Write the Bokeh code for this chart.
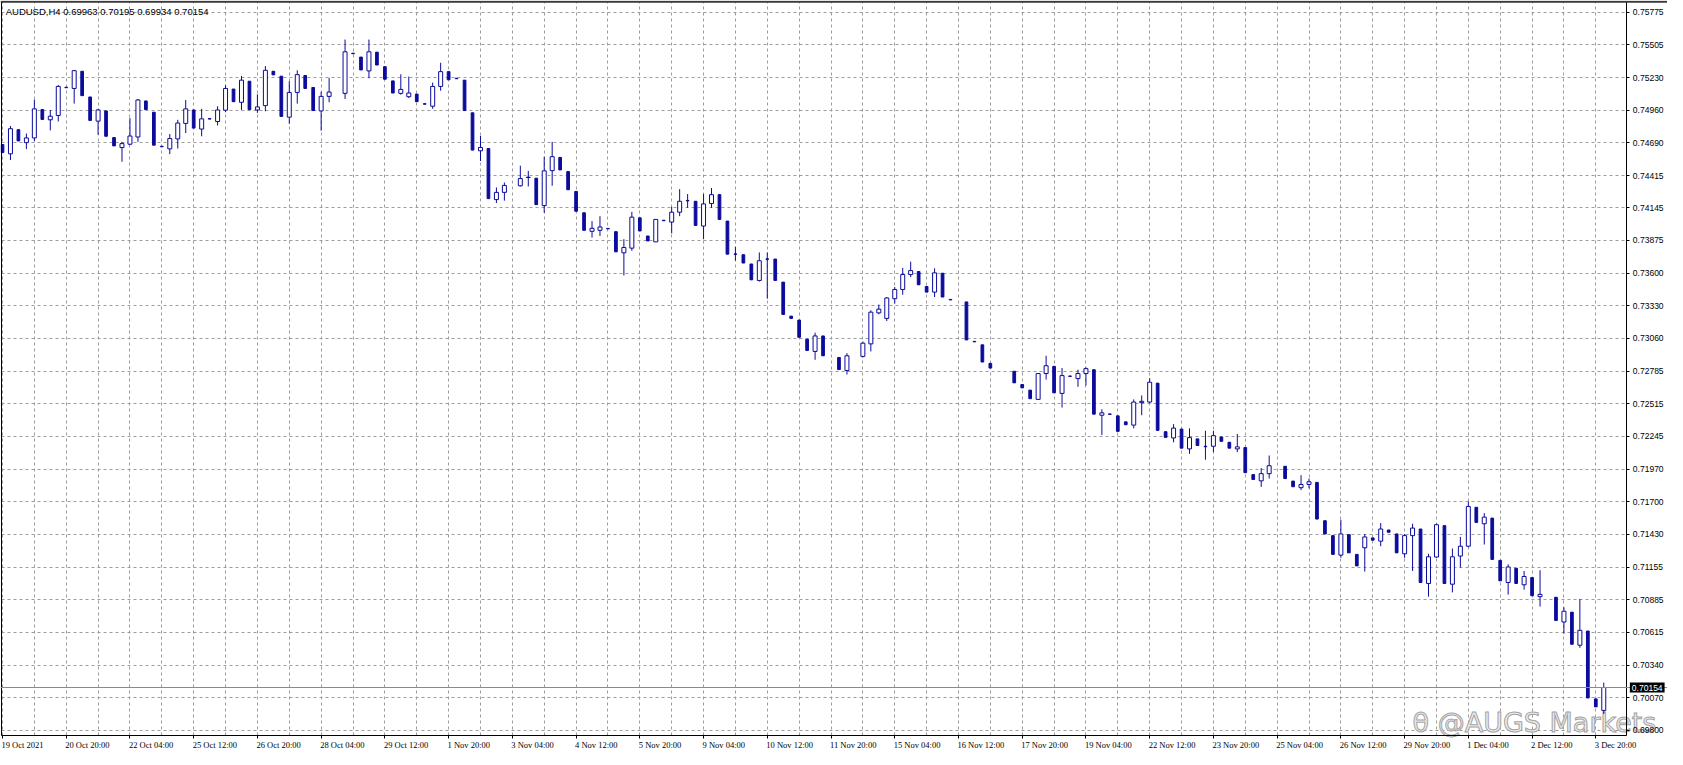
import numpy as np
from bokeh.plotting import figure
from bokeh.models import (ColumnDataSource, FixedTicker, LinearAxis, Range1d, Label,
                          LabelSet, Span, PrintfTickFormatter, CustomJSTickFormatter, Grid)
from bokeh.embed import file_html
from bokeh.resources import INLINE

# ---------------- data (AUDUSD H4, one entry per bar, None = bar not drawn) -------------
open_ = [
    0.74673, 0.74596, 0.74797, 0.74689, 0.74728, 0.74964, 0.74879, 0.74915, 0.75150, 0.75140,
    0.75283, 0.75069, 0.74868, 0.74953, 0.74731, 0.74648, 0.74676, 0.74736, 0.75036, 0.74942,
    0.74659, 0.74637, 0.74720, 0.74849, 0.74961, 0.74802, 0.74889, 0.74865, 0.74959, 0.75135,
    0.75025, 0.75200, 0.74961, 0.74997, 0.75283, 0.75242, 0.74901, 0.75107, 0.75247, 0.75148,
    0.74953, 0.75074, None, 0.75099, 0.75433, 0.75401, 0.75286, 0.75442, 0.75321, 0.75203,
    0.75099, 0.75071, 0.75093, 0.75013, 0.74992, 0.75157, 0.75280, 0.75225, 0.75209, 0.74937,
    0.74621, 0.74640, 0.74215, 0.74275, None, 0.74330, 0.74399, 0.74393, 0.74165, 0.74456,
    0.74566, 0.74448, 0.74283, 0.74105, 0.73951, 0.73959, 0.73975, 0.73948, 0.73772, 0.73811,
    0.74063, 0.73912, 0.73863, 0.74043, 0.74028, 0.74110, 0.74208, 0.74201, 0.73995, 0.74182,
    0.74256, 0.74036, 0.73763, 0.73756, 0.73679, 0.73542, 0.73722, 0.73720, 0.73528, 0.73245,
    0.73212, 0.73053, 0.72951, 0.73080, None, 0.72901, 0.72792, None, 0.72910, 0.73014,
    0.73272, 0.73226, 0.73390, 0.73467, 0.73591, 0.73616, 0.73492, 0.73445, 0.73602, 0.73384,
    None, 0.73363, 0.73035, 0.73006, 0.72852, None, None, 0.72786, 0.72676, 0.72629,
    0.72552, 0.72767, 0.72827, 0.72602, 0.72747, 0.72725, 0.72767, 0.72799, 0.72420, 0.72431,
    0.72415, 0.72365, 0.72338, 0.72525, 0.72530, 0.72687, 0.72283, 0.72231, 0.72305, 0.72140,
    0.72223, 0.72162, 0.72162, 0.72239, 0.72195, 0.72140, 0.72151, 0.71926, 0.71874, 0.71934,
    None, 0.71995, 0.71872, 0.71817, 0.71844, 0.71861, 0.71542, 0.71418, 0.71256, 0.71426,
    0.71262, 0.71317, 0.71399, 0.71372, 0.71465, 0.71432, 0.71267, 0.71418, 0.71473, 0.71020,
    0.71240, 0.71501, 0.71014, 0.71248, 0.71330, 0.71654, 0.71517, 0.71564, 0.71212, 0.71028,
    0.71146, 0.71009, 0.71069, 0.70910, None, 0.70905, 0.70699, 0.70781, 0.70506, 0.70624,
    0.70059, 0.69963]

high = [
    0.74673, 0.74827, 0.74797, 0.74764, 0.75047, 0.74964, 0.74961, 0.75168, 0.75150, 0.75294,
    0.75283, 0.75069, 0.74970, 0.74953, 0.74731, 0.74695, 0.74893, 0.75052, 0.75036, 0.74942,
    0.74659, 0.74761, 0.74879, 0.75044, 0.74961, 0.74970, 0.74889, 0.74992, 0.75168, 0.75135,
    0.75244, 0.75200, 0.75091, 0.75327, 0.75283, 0.75242, 0.75200, 0.75291, 0.75247, 0.75148,
    0.75113, 0.75228, None, 0.75547, 0.75433, 0.75401, 0.75547, 0.75442, 0.75321, 0.75203,
    0.75258, 0.75239, 0.75093, 0.75013, 0.75189, 0.75354, 0.75280, 0.75225, 0.75209, 0.74937,
    0.74745, 0.74640, 0.74316, 0.74357, None, 0.74497, 0.74454, 0.74393, 0.74572, 0.74695,
    0.74566, 0.74448, 0.74283, 0.74105, 0.74036, 0.74077, 0.73975, 0.73948, 0.73885, 0.74113,
    0.74063, 0.73912, 0.74050, 0.74043, 0.74154, 0.74302, 0.74261, 0.74201, 0.74261, 0.74311,
    0.74256, 0.74036, 0.73822, 0.73756, 0.73679, 0.73775, 0.73775, 0.73720, 0.73528, 0.73245,
    0.73212, 0.73053, 0.73107, 0.73080, None, 0.72901, 0.72937, None, 0.73033, 0.73294,
    0.73341, 0.73404, 0.73487, 0.73646, 0.73698, 0.73616, 0.73492, 0.73643, 0.73602, 0.73384,
    None, 0.73363, 0.73035, 0.73006, 0.72852, None, None, 0.72786, 0.72676, 0.72629,
    0.72767, 0.72915, 0.72827, 0.72813, 0.72747, 0.72799, 0.72819, 0.72799, 0.72470, 0.72431,
    0.72415, 0.72365, 0.72552, 0.72585, 0.72728, 0.72687, 0.72283, 0.72346, 0.72305, 0.72311,
    0.72223, 0.72291, 0.72291, 0.72239, 0.72195, 0.72264, 0.72151, 0.71926, 0.71981, 0.72085,
    None, 0.71995, 0.71872, 0.71921, 0.71893, 0.71861, 0.71542, 0.71418, 0.71550, 0.71426,
    0.71262, 0.71432, 0.71399, 0.71523, 0.71465, 0.71432, 0.71432, 0.71517, 0.71473, 0.71267,
    0.71517, 0.71501, 0.71311, 0.71407, 0.71701, 0.71654, 0.71605, 0.71564, 0.71212, 0.71179,
    0.71146, 0.71124, 0.71069, 0.71130, None, 0.70905, 0.70822, 0.70781, 0.70891, 0.70624,
    0.70059, 0.70195]

low = [
    0.74607, 0.74544, 0.74703, 0.74635, 0.74701, 0.74882, 0.74791, 0.74865, 0.75146, 0.75014,
    0.75080, 0.74874, 0.74755, 0.74742, 0.74662, 0.74530, 0.74668, 0.74695, 0.74964, 0.74668,
    0.74655, 0.74593, 0.74640, 0.74769, 0.74810, 0.74742, 0.74885, 0.74832, 0.74942, 0.75030,
    0.74961, 0.74964, 0.74937, 0.74950, 0.75253, 0.74907, 0.74846, 0.75014, 0.75140, 0.74956,
    0.74788, 0.75025, None, 0.75052, 0.75429, 0.75294, 0.75225, 0.75335, 0.75217, 0.75102,
    0.75088, 0.75060, 0.75030, 0.75009, 0.74970, 0.75121, 0.75212, 0.75221, 0.74956, 0.74627,
    0.74536, 0.74223, 0.74187, 0.74206, None, 0.74324, 0.74324, 0.74173, 0.74105, 0.74330,
    0.74462, 0.74297, 0.74118, 0.73959, 0.73899, 0.73912, 0.73971, 0.73780, 0.73583, 0.73789,
    0.73954, 0.73871, 0.73863, 0.74039, 0.73934, 0.74077, 0.74146, 0.74000, 0.73885, 0.74146,
    0.74050, 0.73761, 0.73706, 0.73687, 0.73547, 0.73533, 0.73390, 0.73542, 0.73259, 0.73226,
    0.73069, 0.72959, 0.72882, 0.72915, None, 0.72800, 0.72759, None, 0.72901, 0.72951,
    0.73261, 0.73204, 0.73349, 0.73423, 0.73569, 0.73506, 0.73445, 0.73404, 0.73404, 0.73380,
    None, 0.73047, 0.73031, 0.72863, 0.72813, None, None, 0.72690, 0.72648, 0.72558,
    0.72552, 0.72717, 0.72607, 0.72484, 0.72743, 0.72657, 0.72668, 0.72429, 0.72256, 0.72427,
    0.72286, 0.72341, 0.72311, 0.72420, 0.72519, 0.72294, 0.72236, 0.72195, 0.72146, 0.72099,
    0.72168, 0.72050, 0.72113, 0.72203, 0.72146, 0.72113, 0.71942, 0.71885, 0.71824, 0.71893,
    None, 0.71893, 0.71825, 0.71797, 0.71811, 0.71556, 0.71432, 0.71262, 0.71234, 0.71275,
    0.71166, 0.71119, 0.71380, 0.71330, 0.71446, 0.71275, 0.71234, 0.71124, 0.71028, 0.70910,
    0.71234, 0.71020, 0.70946, 0.71152, 0.71322, 0.71528, 0.71344, 0.71220, 0.71042, 0.70927,
    0.71020, 0.70968, 0.70918, 0.70828, None, 0.70712, 0.70602, 0.70514, 0.70484, 0.70067,
    0.69993, 0.69934]

close = [
    0.74607, 0.74805, 0.74703, 0.74728, 0.74970, 0.74882, 0.74909, 0.75157, 0.75146, 0.75288,
    0.75080, 0.74874, 0.74961, 0.74742, 0.74662, 0.74681, 0.74744, 0.75044, 0.74964, 0.74668,
    0.74655, 0.74723, 0.74852, 0.74970, 0.74810, 0.74887, 0.74885, 0.74961, 0.75140, 0.75030,
    0.75209, 0.74964, 0.74986, 0.75291, 0.75253, 0.74907, 0.75107, 0.75255, 0.75140, 0.74956,
    0.75074, 0.75110, None, 0.75445, 0.75429, 0.75294, 0.75445, 0.75335, 0.75217, 0.75102,
    0.75132, 0.75102, 0.75030, 0.75009, 0.75157, 0.75280, 0.75212, 0.75221, 0.74956, 0.74627,
    0.74649, 0.74223, 0.74275, 0.74333, None, 0.74390, 0.74401, 0.74173, 0.74454, 0.74572,
    0.74462, 0.74297, 0.74118, 0.73959, 0.73976, 0.73987, 0.73971, 0.73780, 0.73816, 0.74069,
    0.73954, 0.73871, 0.74050, 0.74039, 0.74110, 0.74201, 0.74204, 0.74000, 0.74179, 0.74256,
    0.74050, 0.73761, 0.73759, 0.73687, 0.73547, 0.73706, 0.73718, 0.73542, 0.73259, 0.73226,
    0.73069, 0.72959, 0.73080, 0.72915, None, 0.72800, 0.72915, None, 0.73020, 0.73278,
    0.73303, 0.73396, 0.73467, 0.73591, 0.73624, 0.73506, 0.73445, 0.73605, 0.73404, 0.73380,
    None, 0.73047, 0.73031, 0.72863, 0.72813, None, None, 0.72690, 0.72648, 0.72558,
    0.72767, 0.72832, 0.72607, 0.72750, 0.72743, 0.72767, 0.72808, 0.72429, 0.72440, 0.72427,
    0.72286, 0.72341, 0.72530, 0.72536, 0.72695, 0.72294, 0.72236, 0.72313, 0.72146, 0.72234,
    0.72168, 0.72158, 0.72250, 0.72203, 0.72146, 0.72157, 0.71942, 0.71885, 0.71934, 0.72000,
    None, 0.71893, 0.71825, 0.71844, 0.71866, 0.71556, 0.71432, 0.71262, 0.71432, 0.71275,
    0.71166, 0.71407, 0.71380, 0.71473, 0.71446, 0.71275, 0.71418, 0.71481, 0.71028, 0.71242,
    0.71509, 0.71020, 0.71242, 0.71330, 0.71660, 0.71528, 0.71572, 0.71220, 0.71042, 0.71157,
    0.71020, 0.71078, 0.70918, 0.70929, None, 0.70712, 0.70789, 0.70514, 0.70630, 0.70067,
    0.69993, 0.70154]

price_ticks = [0.75775, 0.75505, 0.75230, 0.74960, 0.74690, 0.74415, 0.74145, 0.73875,
               0.73600, 0.73330, 0.73060, 0.72785, 0.72515, 0.72245, 0.71970, 0.71700,
               0.71430, 0.71155, 0.70885, 0.70615, 0.70340, 0.70070, 0.69800]

time_labels = ["19 Oct 2021", "20 Oct 20:00", "22 Oct 04:00", "25 Oct 12:00", "26 Oct 20:00",
               "28 Oct 04:00", "29 Oct 12:00", "1 Nov 20:00", "3 Nov 04:00", "4 Nov 12:00",
               "5 Nov 20:00", "9 Nov 04:00", "10 Nov 12:00", "11 Nov 20:00", "15 Nov 04:00",
               "16 Nov 12:00", "17 Nov 20:00", "19 Nov 04:00", "22 Nov 12:00", "23 Nov 20:00",
               "25 Nov 04:00", "26 Nov 12:00", "29 Nov 20:00", "1 Dec 04:00", "2 Dec 12:00",
               "3 Dec 20:00"]
bars_per_label = 8
bars_per_vgrid = 4

symbol = "AUDUSD,H4"
last_price = 0.70154
watermark = "@AUGS Markets"
# -----------------------------------------------------------------------------------------

assert len(open_) == len(high) == len(low) == len(close)

NAVY = "#0b0b9c"
GRID = "#9c9c9c"
FONT = "Liberation Sans"

# chart box (in data units): left/right edge in bars, bottom/top in price
X_LEFT, X_AXIS = -0.1, 203.9
Y_BOTTOM, Y_TOP = 0.69754, 0.75862

o = np.array(open_, dtype=float)
h = np.array(high, dtype=float)
l = np.array(low, dtype=float)
c = np.array(close, dtype=float)
idx = np.arange(len(o), dtype=float)
valid = ~np.isnan(o)
bull = valid & (c > o)
bear = valid & (c < o)

p = figure(width=1667, height=749, output_backend="svg", toolbar_location=None,
           x_range=Range1d(-0.25, 209.0), y_range=Range1d(0.69638, 0.75872),
           x_axis_location=None, y_axis_location=None,
           min_border_left=0, min_border_top=0, min_border_right=0, min_border_bottom=0)
p.background_fill_color = "white"
p.border_fill_color = "white"
p.outline_line_color = None

# dashed grid, kept inside the chart box
vticks = list(range(0, len(o), bars_per_vgrid))
if "cross_bounds" in Grid.properties():
    p.xgrid.ticker = FixedTicker(ticks=vticks)
    p.ygrid.ticker = FixedTicker(ticks=price_ticks)
    p.xgrid.cross_bounds = (Y_BOTTOM, Y_TOP)
    p.ygrid.cross_bounds = (X_LEFT, X_AXIS)
    for g in (p.xgrid, p.ygrid):
        g.grid_line_color = GRID
        g.grid_line_dash = "3 3"
        g.grid_line_width = 1
else:
    p.xgrid.visible = False
    p.ygrid.visible = False
    p.segment(x0=vticks, y0=[Y_BOTTOM] * len(vticks), x1=vticks, y1=[Y_TOP] * len(vticks),
              line_color=GRID, line_dash="3 3", line_width=1)
    p.segment(x0=[X_LEFT] * len(price_ticks), y0=price_ticks, x1=[X_AXIS] * len(price_ticks),
              y1=price_ticks, line_color=GRID, line_dash="3 3", line_width=1)

blank = CustomJSTickFormatter(code="return ''")

# price scale (right)
yax = LinearAxis(fixed_location=X_AXIS, bounds=(Y_BOTTOM, Y_TOP),
                 ticker=FixedTicker(ticks=price_ticks),
                 formatter=PrintfTickFormatter(format="%.5f"),
                 major_tick_out=3, major_tick_in=0, minor_tick_out=0, minor_tick_in=0,
                 axis_line_color="black", major_tick_line_color="black",
                 major_label_text_font=FONT, major_label_text_font_size="8.5px",
                 major_label_text_color="black", major_label_standoff=3)
p.add_layout(yax, "right")

# time scale (bottom line with ticks; labels drawn left-aligned below)
label_x = [i * bars_per_label for i in range(len(time_labels))]
xax = LinearAxis(fixed_location=Y_BOTTOM, bounds=(X_LEFT, X_AXIS),
                 ticker=FixedTicker(ticks=label_x), formatter=blank,
                 major_tick_out=3, major_tick_in=0, minor_tick_out=0, minor_tick_in=0,
                 axis_line_color="black", major_tick_line_color="black",
                 major_label_text_color=None)
p.add_layout(xax, "below")

# left border
lax = LinearAxis(fixed_location=X_LEFT, bounds=(Y_BOTTOM, Y_TOP),
                 ticker=FixedTicker(ticks=[]), formatter=blank,
                 major_tick_out=0, major_tick_in=0, minor_tick_out=0, minor_tick_in=0,
                 axis_line_color="black", major_label_text_color=None)
p.add_layout(lax, "left")

# top border
p.add_layout(Span(location=Y_TOP, dimension="width", line_color="#3a3a3a", line_width=2))

# watermark (under the candles), outlined grey lettering
wm_kw = dict(text_align="left", text_baseline="alphabetic", text_font="DejaVu Sans",
             text_font_size="27px", level="underlay")
if "text_outline_color" in Label.properties():
    wm_kw.update(text_color="#ededed", text_outline_color="#a4a4a4")
else:
    wm_kw.update(text_color="#cdcdcd")
p.add_layout(Label(x=177.0, y=0.69861, text="\u03b8 " + watermark, **wm_kw))

# current bid line
p.add_layout(Span(location=last_price, dimension="width", line_color="#8a8a8a", line_width=1))

# wicks and bodies
wick_src = ColumnDataSource(dict(x=idx[valid], lo=l[valid], hi=h[valid]))
p.segment(x0="x", y0="lo", x1="x", y1="hi", source=wick_src, line_color=NAVY, line_width=1)

bull_src = ColumnDataSource(dict(x=idx[bull], bottom=o[bull], top=c[bull]))
p.vbar(x="x", bottom="bottom", top="top", width=0.5, source=bull_src,
       fill_color="white", line_color=NAVY, line_width=1)

bear_src = ColumnDataSource(dict(x=idx[bear], bottom=c[bear], top=o[bear]))
p.vbar(x="x", bottom="bottom", top="top", width=0.34, source=bear_src,
       fill_color=NAVY, line_color=NAVY, line_width=1)

# time labels, left aligned at their bar
tl_src = ColumnDataSource(dict(x=label_x, y=[Y_BOTTOM] * len(label_x), text=time_labels))
p.add_layout(LabelSet(x="x", y="y", text="text", source=tl_src, x_offset=-1, y_offset=-4,
                      text_align="left", text_baseline="top", text_font=FONT,
                      text_font_size="8.5px", text_color="black"))

# header
p.add_layout(Label(x=X_LEFT, y=Y_TOP, x_offset=4, y_offset=-4,
                   text=f"{symbol}  {open_[-1]:.5f} {high[-1]:.5f} {low[-1]:.5f} {close[-1]:.5f}",
                   text_align="left", text_baseline="top", text_font=FONT,
                   text_font_size="9.5px", text_color="black"))

# last price box on the price scale
p.add_layout(Label(x=X_AXIS, y=last_price, x_offset=3, text=f"{last_price:.5f}",
                   text_align="left", text_baseline="middle", text_font=FONT,
                   text_font_size="8.5px", text_color="white",
                   background_fill_color="black", padding=2))

open("out.html", "w").write(file_html(p, INLINE))
